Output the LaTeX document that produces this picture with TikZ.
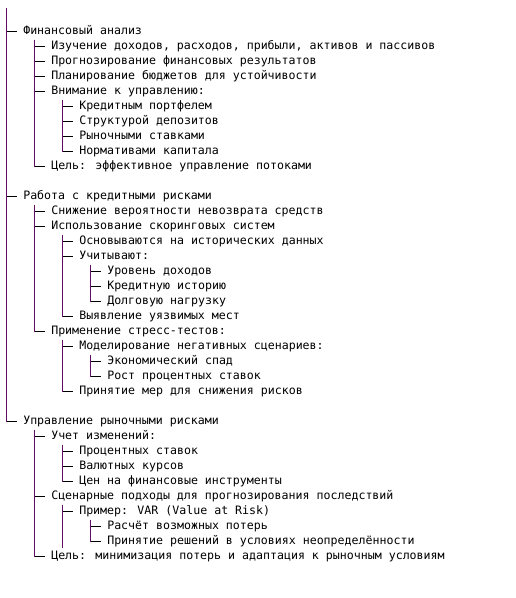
\documentclass[tikz,border=0pt]{standalone}
\usepackage{fontspec}
\usepackage{xcolor}
\usepackage{tikz}
\newfontfamily\treefont{DejaVu Sans Mono}
\definecolor{trunkcol}{RGB}{98,14,98}

\begin{document}
\begin{tikzpicture}[x=0.75pt, y=-0.75pt,
  item/.style={anchor=west, inner xsep=4.5pt, inner ysep=0pt, text height=6.5pt, text depth=1.8pt,
    font=\treefont\fontsize{8.7}{10}\selectfont},
  trunk/.style={draw=trunkcol, line width=1.1pt},
  tick/.style={draw=black, line width=0.8pt}]
  \useasboundingbox (0,0) rectangle (516,598);

  \node [item] (fin) at (17,31.7) {Финансовый анализ};
  \node [item] (fin1) at (45,46.7) {Изучение доходов, расходов, прибыли, активов и пассивов};
  \node [item] (fin2) at (45,61.7) {Прогнозирование финансовых результатов};
  \node [item] (fin3) at (45,76.7) {Планирование бюджетов для устойчивости};
  \node [item] (fin4) at (45,91.7) {Внимание к управлению:};
  \node [item] (fin4a) at (73,106.7) {Кредитным портфелем};
  \node [item] (fin4b) at (73,121.7) {Структурой депозитов};
  \node [item] (fin4c) at (73,136.7) {Рыночными ставками};
  \node [item] (fin4d) at (73,151.7) {Нормативами капитала};
  \node [item] (fin5) at (45,166.7) {Цель: эффективное управление потоками};

  \node [item] (cred) at (17,196.7) {Работа с кредитными рисками};
  \node [item] (cred1) at (45,211.7) {Снижение вероятности невозврата средств};
  \node [item] (cred2) at (45,226.7) {Использование скоринговых систем};
  \node [item] (cred2a) at (73,241.7) {Основываются на исторических данных};
  \node [item] (cred2b) at (73,256.7) {Учитывают:};
  \node [item] (cred2b1) at (101,271.7) {Уровень доходов};
  \node [item] (cred2b2) at (101,286.7) {Кредитную историю};
  \node [item] (cred2b3) at (101,301.7) {Долговую нагрузку};
  \node [item] (cred2c) at (73,316.7) {Выявление уязвимых мест};
  \node [item] (cred3) at (45,331.7) {Применение стресс-тестов:};
  \node [item] (cred3a) at (73,346.7) {Моделирование негативных сценариев:};
  \node [item] (cred3a1) at (101,361.7) {Экономический спад};
  \node [item] (cred3a2) at (101,376.7) {Рост процентных ставок};
  \node [item] (cred3b) at (73,391.7) {Принятие мер для снижения рисков};

  \node [item] (mkt) at (17,421.7) {Управление рыночными рисками};
  \node [item] (mkt1) at (45,436.7) {Учет изменений:};
  \node [item] (mkt1a) at (73,451.7) {Процентных ставок};
  \node [item] (mkt1b) at (73,466.7) {Валютных курсов};
  \node [item] (mkt1c) at (73,481.7) {Цен на финансовые инструменты};
  \node [item] (mkt2) at (45,496.7) {Сценарные подходы для прогнозирования последствий};
  \node [item] (mkt2a) at (73,511.7) {Пример: VAR (Value at Risk)};
  \node [item] (mkt2a1) at (101,526.7) {Расчёт возможных потерь};
  \node [item] (mkt2a2) at (101,541.7) {Принятие решений в условиях неопределённости};
  \node [item] (mkt3) at (45,556.7) {Цель: минимизация потерь и адаптация к рыночным условиям};

  \coordinate (root) at (6.3,8);
  \coordinate (fin-t) at (34.3,39.7);
  \coordinate (fin4-t) at (62.3,99.7);
  \coordinate (cred-t) at (34.3,204.7);
  \coordinate (cred2-t) at (62.3,234.7);
  \coordinate (cred2b-t) at (90.3,264.7);
  \coordinate (cred3-t) at (62.3,339.7);
  \coordinate (cred3a-t) at (90.3,354.7);
  \coordinate (mkt-t) at (34.3,429.7);
  \coordinate (mkt1-t) at (62.3,444.7);
  \coordinate (mkt2-t) at (62.3,504.7);
  \coordinate (mkt2a-t) at (90.3,519.7);

  \foreach \c in {fin,cred,mkt} \draw [tick] (root |- \c.west) -- (\c.west);
  \foreach \c in {fin1,fin2,fin3,fin4,fin5} \draw [tick] (fin-t |- \c.west) -- (\c.west);
  \foreach \c in {fin4a,fin4b,fin4c,fin4d} \draw [tick] (fin4-t |- \c.west) -- (\c.west);
  \foreach \c in {cred1,cred2,cred3} \draw [tick] (cred-t |- \c.west) -- (\c.west);
  \foreach \c in {cred2a,cred2b,cred2c} \draw [tick] (cred2-t |- \c.west) -- (\c.west);
  \foreach \c in {cred2b1,cred2b2,cred2b3} \draw [tick] (cred2b-t |- \c.west) -- (\c.west);
  \foreach \c in {cred3a,cred3b} \draw [tick] (cred3-t |- \c.west) -- (\c.west);
  \foreach \c in {cred3a1,cred3a2} \draw [tick] (cred3a-t |- \c.west) -- (\c.west);
  \foreach \c in {mkt1,mkt2,mkt3} \draw [tick] (mkt-t |- \c.west) -- (\c.west);
  \foreach \c in {mkt1a,mkt1b,mkt1c} \draw [tick] (mkt1-t |- \c.west) -- (\c.west);
  \draw [tick] (mkt2-t |- mkt2a.west) -- (mkt2a.west);
  \foreach \c in {mkt2a1,mkt2a2} \draw [tick] (mkt2a-t |- \c.west) -- (\c.west);

  \draw [trunk] (root) -- (root |- mkt.west);
  \draw [trunk] (fin-t) -- (fin-t |- fin5.west);
  \draw [trunk] (fin4-t) -- (fin4-t |- fin4d.west);
  \draw [trunk] (cred-t) -- (cred-t |- cred3.west);
  \draw [trunk] (cred2-t) -- (cred2-t |- cred2c.west);
  \draw [trunk] (cred2b-t) -- (cred2b-t |- cred2b3.west);
  \draw [trunk] (cred3-t) -- (cred3-t |- cred3b.west);
  \draw [trunk] (cred3a-t) -- (cred3a-t |- cred3a2.west);
  \draw [trunk] (mkt-t) -- (mkt-t |- mkt3.west);
  \draw [trunk] (mkt1-t) -- (mkt1-t |- mkt1c.west);
  \draw [trunk] (mkt2-t) -- (mkt2-t |- mkt2a2.south);
  \draw [trunk] (mkt2a-t) -- (mkt2a-t |- mkt2a2.west);
\end{tikzpicture}
\end{document}
